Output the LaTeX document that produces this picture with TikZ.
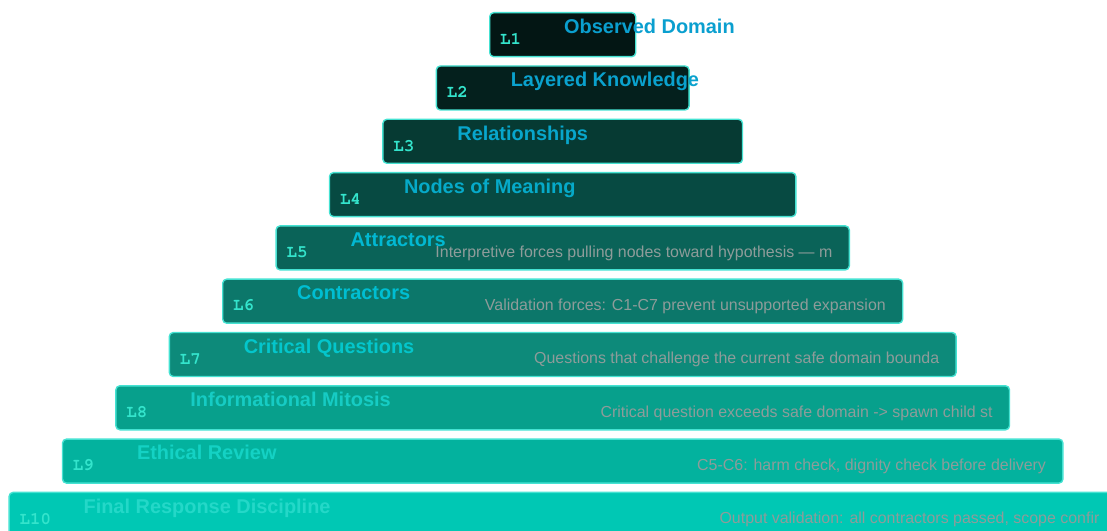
\documentclass[tikz,border=0pt]{standalone}
\usepackage{fontspec}
\setmainfont{Liberation Sans}
\newfontfamily\monof{TeX Gyre Cursor}
\definecolor{f1}{HTML}{031614}
\definecolor{f2}{HTML}{04201D}
\definecolor{f3}{HTML}{063A33}
\definecolor{f4}{HTML}{074A42}
\definecolor{f5}{HTML}{0A6358}
\definecolor{f6}{HTML}{0C776A}
\definecolor{f7}{HTML}{0D8A7A}
\definecolor{f8}{HTML}{07A08C}
\definecolor{f9}{HTML}{03B29E}
\definecolor{f10}{HTML}{00C8B4}
\definecolor{t1}{HTML}{0A9FCF}
\definecolor{t2}{HTML}{0AA2CE}
\definecolor{t3}{HTML}{08A6CC}
\definecolor{t4}{HTML}{06AAC9}
\definecolor{t5}{HTML}{02B8D2}
\definecolor{t6}{HTML}{00BED2}
\definecolor{t7}{HTML}{04C6CC}
\definecolor{t8}{HTML}{16CCC4}
\definecolor{t9}{HTML}{14D2C4}
\definecolor{t10}{HTML}{24D8C8}
\definecolor{edge}{HTML}{45E2D2}
\definecolor{lab}{HTML}{34E4CC}
\definecolor{desc}{HTML}{8E9C9A}
\begin{document}
\begin{tikzpicture}[x=1bp,y=-1bp,inner sep=0pt,
  layerbox/.style={draw=edge,line width=1.4bp,rounded corners=4bp,anchor=north west,minimum height=44bp},
  ttl/.style={anchor=base west,font=\bfseries\fontsize{20}{21}\selectfont},
  lvl/.style={anchor=base west,font=\monof\bfseries\fontsize{17.5}{18}\selectfont,text=lab},
  dsc/.style={anchor=base east,font=\fontsize{16}{17}\selectfont,text=desc}]
\useasboundingbox (0,0) rectangle (1107,531);
\foreach \i/\t/\d in {
  1/{Observed Domain}/{},
  2/{Layered Knowledge}/{},
  3/{Relationships}/{},
  4/{Nodes of Meaning}/{},
  5/{Attractors}/{Interpretive forces pulling nodes toward hypothesis — m},
  6/{Contractors}/{Validation forces: C1-C7 prevent unsupported expansion},
  7/{Critical Questions}/{Questions that challenge the current safe domain bounda},
  8/{Informational Mitosis}/{Critical question exceeds safe domain -> spawn child st},
  9/{Ethical Review}/{C5-C6: harm check, dignity check before delivery},
  10/{Final Response Discipline}/{Output validation: all contractors passed, scope confir}}{
  \pgfmathsetmacro\L{489-53.4*(\i-1)}
  \pgfmathsetmacro\R{635+53.4*(\i-1)}
  \pgfmathsetmacro\T{12+53.3*(\i-1)}
  \pgfmathsetmacro\W{\R-\L}
  \node[layerbox,fill=f\i,minimum width=\W bp] (b\i) at (\L,\T) {};
  \node[lvl] (l\i) at (\L+11,\T+32.5) {L\i};
  \node[dsc] (d\i) at (\R-16,\T+32) {\d};
  \node[ttl,text=t\i] (t\i) at (\L+75,\T+21.5) {\t};
}
\end{tikzpicture}
\end{document}
